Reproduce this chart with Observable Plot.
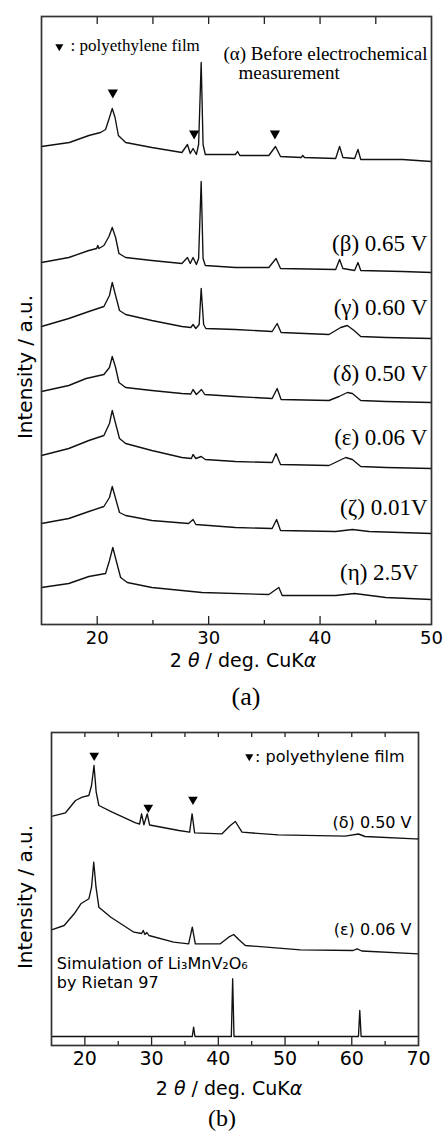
<!DOCTYPE html>
<html><head><meta charset="utf-8">
<script src="https://cdn.jsdelivr.net/npm/d3@7"></script>
<script src="https://cdn.jsdelivr.net/npm/@observablehq/plot@0.6"></script>
<style>
body{margin:0;background:#fff;}
#wrap{position:relative;width:444px;height:1134px;overflow:hidden;background:#fff;}
.t{position:absolute;white-space:nowrap;line-height:1;transform:translate(-50%,-50%);color:#000;}
.sans{font-family:"DejaVu Sans";}
.serif{font-family:"Liberation Serif";}
.rot{transform:translate(-50%,-50%) rotate(-90deg);}
</style></head><body><div id="wrap"></div>
<script>
// ---------- Panel (a): 2θ (deg) vs intensity (a.u., stacked) ----------
const alpha = [[15.0,478],[17.5,482],[19.25,489],[20.3,492],[20.75,495],[21.1,507],[21.35,516],[21.6,507],[21.9,489],[22.55,482],[24.9,477],[27.6,472],[28.1,480],[28.35,471],[28.6,476],[28.9,470],[29.1,480],[29.33,562],[29.5,480],[29.7,470],[32.4,470],[32.6,473],[32.8,469],[35.4,469],[36.0,478],[36.45,468],[38.3,467],[38.45,469],[38.6,467],[41.4,466],[41.75,478],[42.05,467],[43.1,466],[43.4,475],[43.65,465],[47.4,465],[50,463]];
const beta = [[15,362],[17.45,367],[19.25,374],[19.95,376],[20.05,379],[20.15,376],[20.6,379],[21.05,388],[21.35,397],[21.65,387],[21.95,371],[22.55,367],[24.9,364],[27.6,361],[28.1,367],[28.35,361],[28.6,367],[28.9,360],[29.1,366],[29.33,443],[29.5,366],[29.7,359],[32.4,357],[35.4,357],[36.05,366],[36.45,356],[41.4,355],[41.75,365],[42.05,356],[43.1,354],[43.4,362],[43.65,354],[47.4,353],[50,352]];
const gamma = [[15,298],[17.45,306],[19.25,313],[20.6,318],[21.1,329],[21.35,342],[21.65,329],[22.0,314],[22.55,310],[24.9,304],[27.6,298],[28.4,297],[28.6,300],[28.85,296],[29.15,300],[29.33,336],[29.55,300],[29.75,296],[32.4,295],[35.7,293],[36.15,301],[36.5,292],[40.8,290],[41.4,294],[41.85,297],[42.45,299],[43.05,294],[43.65,288],[45.9,287],[50,286]];
const delta = [[15,233],[17.45,239],[19.0,246],[20.6,250],[21.1,257],[21.35,268],[21.65,257],[21.95,242],[22.55,237],[24.9,234],[27.6,231],[28.4,230.5],[28.6,235],[28.9,230],[29.36,235],[29.65,230],[32.4,228],[35.7,226],[36.15,236],[36.5,225],[40.8,224],[41.7,228],[42.45,232],[42.9,231],[43.65,224],[45.9,223],[50,222]];
const epsilon = [[15,169],[17.45,176],[19.25,184],[20.6,189],[21.1,201],[21.35,214],[21.65,201],[22.0,186],[22.55,181],[24.9,174],[27.6,167],[28.45,166],[28.6,170],[28.85,166],[29.33,168],[29.7,165],[32.4,163],[35.7,162],[36.05,171],[36.45,160],[40.8,159],[41.55,163],[42.3,167],[42.9,165],[43.65,158],[45.9,157],[50,156]];
const zeta = [[15,101],[17.45,106],[19.25,113],[20.6,118],[21.1,127],[21.35,138],[21.65,126],[22.0,112],[22.55,109],[24.9,104],[28.2,101],[28.6,105],[28.85,100],[32.4,97],[35.7,96],[36.1,105],[36.45,94],[41.4,93],[42.9,95],[44.4,93],[50,91]];
const eta = [[15,37],[17.45,41],[19.25,48],[20.75,51],[21.1,64],[21.4,77],[21.7,64],[22.1,47],[22.7,42],[24.9,37],[29.4,32],[35.4,30],[36.3,37],[36.6,29],[41.4,29],[43.1,31],[45.9,27],[50,25]];
const namesA = ["α","β","γ","δ","ε","ζ","η"];
const tracesA = [alpha, beta, gamma, delta, epsilon, zeta, eta];
const labelsA = ["(β) 0.65 V","(γ) 0.60 V","(δ) 0.50 V","(ε) 0.06 V","(ζ) 0.01V","(η) 2.5V"];
const labelXA = [49.64,49.64,49.64,49.64,49.64,48.83];
const labelYA = [381,317,251,187,117,52];
const peMarksA = [[21.4,532],[28.7,491],[35.95,491]];
const tickLabelsA = [20,30,40,50];
const majorA = [20,30,40];
const minorA = [25,35,45];
const topA = [20,25,30,35,40,45];

// ---------- Panel (b) ----------
const deltaB = [[15.15,229.3],[17.1,232.7],[18.6,245],[19.6,248.3],[20.6,250],[21.0,260],[21.37,280],[21.7,253.3],[22.1,240],[24.1,233.3],[27.6,222.7],[28.2,221.5],[28.5,231.7],[28.85,220.7],[29.35,231.7],[29.7,220.5],[34.1,215],[35.7,213.3],[36.07,231.7],[36.45,212.7],[40.55,211.7],[41.8,220],[42.55,224],[43.55,213.3],[49.0,210.7],[59,209.3],[61.0,211.5],[62,209],[69.5,206.7],[70,206.5]];
const epsilonB = [[15,115.7],[16.9,120],[18.4,131.7],[19.4,141.7],[20.6,146.7],[21.0,158.3],[21.33,183.3],[21.67,158.3],[22.1,138.3],[23.9,128.3],[27.35,113.3],[28.5,112],[28.75,115],[29.0,111],[29.3,113],[29.6,110],[33.3,103.3],[35.55,101.7],[36.1,118.3],[36.55,101.7],[40.3,101.7],[41.55,108.3],[42.3,111],[43.05,106],[44.05,100],[52.3,95.7],[60.2,95],[60.8,96.7],[61.5,94.5],[70,91.7]];
const simB = [[15,9],[36.1,9],[36.3,18.3],[36.5,9],[41.95,9],[42.15,66.7],[42.35,9],[61.0,9],[61.2,35],[61.4,9],[70,9]];
const namesB = ["δ","ε","sim"];
const tracesB = [deltaB, epsilonB, simB];
const labelsB = ["(δ) 0.50 V","(ε) 0.06 V"];
const labelXB = [68.96,68.96];
const labelYB = [223,116];
const simText = ["Simulation of Li₃MnV₂O₆","by Rietan 97"];
const simTextY = [82,63];
const peMarksB = [[21.4,290],[29.5,238],[36.2,246]];
const tickLabelsB = [20,30,40,50,60,70];
const majorB = [20,30,40,50,60];
const minorB = [25,35,45,55,65];
const topB = [20,25,30,35,40,45,50,55,60,65];

const wrap = document.getElementById("wrap");
const ink = "#111";

const rowsA = tracesA.flatMap((t,i)=>t.map(([x,y])=>({s:namesA[i],x,y})));
const labA = labelsA.map((t,i)=>({t,x:labelXA[i],y:labelYA[i]}));
const plotA = Plot.plot({
  width:444, height:710, marginTop:16, marginBottom:86, marginLeft:41, marginRight:13,
  x:{domain:[15,50]}, y:{domain:[0,608], axis:null},
  style:{fontFamily:"DejaVu Sans", background:"white", color:"#000"},
  marks:[
    Plot.line(rowsA,{x:"x",y:"y",z:"s",stroke:ink,strokeWidth:1.35}),
    Plot.tickX(topA,{x:d=>d,insetBottom:600,stroke:"#222",strokeWidth:1.3}),
    Plot.tickX(majorA,{x:d=>d,insetTop:600,stroke:"#222",strokeWidth:1.3}),
    Plot.tickX(minorA,{x:d=>d,insetTop:604,stroke:"#222",strokeWidth:1.3}),
    Plot.frame({stroke:"#333",strokeWidth:1.7}),
    Plot.axisX(tickLabelsA,{tickSize:0,tickPadding:7,fontSize:18,label:null,tickFormat:d=>String(d),fill:"#000"}),
    Plot.dot(peMarksA,{x:d=>d[0],y:d=>d[1],symbol:"triangle",rotate:180,r:3.8,fill:"#000"}),
    Plot.dot([[16.6,578]],{x:d=>d[0],y:d=>d[1],symbol:"triangle",rotate:180,r:3,fill:"#000"}),
    Plot.text([[17.6,579]],{x:d=>d[0],y:d=>d[1],text:()=>": polyethylene film",textAnchor:"start",fontSize:17,fontFamily:"Liberation Serif",fill:"#000"}),
    Plot.text([[49.64,571]],{x:d=>d[0],y:d=>d[1],text:()=>"(α) Before electrochemical",textAnchor:"end",fontSize:19,fontFamily:"Liberation Serif",fill:"#000"}),
    Plot.text([[32.68,552]],{x:d=>d[0],y:d=>d[1],text:()=>"measurement",textAnchor:"start",fontSize:19,fontFamily:"Liberation Serif",fill:"#000"}),
    Plot.text(labA,{x:"x",y:"y",text:"t",textAnchor:"end",fontSize:23,fontFamily:"Liberation Serif",fill:"#000"})
  ]
});
plotA.style.position="absolute"; plotA.style.left="0px"; plotA.style.top="0px";
wrap.appendChild(plotA);

const rowsB = tracesB.flatMap((t,i)=>t.map(([x,y])=>({s:namesB[i],x,y})));
const labB = labelsB.map((t,i)=>({t,x:labelXB[i],y:labelYB[i]}));
const simLab = simText.map((t,i)=>({t,x:15.8,y:simTextY[i]}));
const plotB = Plot.plot({
  width:444, height:424, marginTop:22, marginBottom:89, marginLeft:51, marginRight:26,
  x:{domain:[15,70]}, y:{domain:[0,313], axis:null},
  style:{fontFamily:"DejaVu Sans", background:"white", color:"#000"},
  marks:[
    Plot.line(rowsB,{x:"x",y:"y",z:"s",stroke:ink,strokeWidth:1.35}),
    Plot.tickX(topB,{x:d=>d,insetBottom:308,stroke:"#222",strokeWidth:1.3}),
    Plot.tickX(majorB,{x:d=>d,insetTop:304,stroke:"#222",strokeWidth:1.3}),
    Plot.tickX(minorB,{x:d=>d,insetTop:309,stroke:"#222",strokeWidth:1.3}),
    Plot.frame({stroke:"#333",strokeWidth:1.7}),
    Plot.axisX(tickLabelsB,{tickSize:0,tickPadding:6,fontSize:19,label:null,tickFormat:d=>String(d),fill:"#000"}),
    Plot.dot(peMarksB,{x:d=>d[0],y:d=>d[1],symbol:"triangle",rotate:180,r:3.6,fill:"#000"}),
    Plot.dot([[44.64,289]],{x:d=>d[0],y:d=>d[1],symbol:"triangle",rotate:180,r:3,fill:"#000"}),
    Plot.text([[45.5,289]],{x:d=>d[0],y:d=>d[1],text:()=>": polyethylene film",textAnchor:"start",fontSize:16,fill:"#000"}),
    Plot.text(labB,{x:"x",y:"y",text:"t",textAnchor:"end",fontSize:16,fill:"#000"}),
    Plot.text(simLab,{x:"x",y:"y",text:"t",textAnchor:"start",fontSize:16,fill:"#000"})
  ]
});
plotB.style.position="absolute"; plotB.style.left="0px"; plotB.style.top="710px";
wrap.appendChild(plotB);

function addText(html, cx, cy, cls, size){
  const d=document.createElement("div");
  d.className="t "+cls; d.style.left=cx+"px"; d.style.top=cy+"px"; d.style.fontSize=size+"px";
  d.innerHTML=html; wrap.appendChild(d);
}
addText("Intensity / a.u.",25,367,"sans rot",20);
addText("2 <i>θ</i> / deg. CuK<i>α</i>",243,660,"sans",19);
addText("(a)",246,697,"serif",26);
addText("Intensity / a.u.",25,897,"sans rot",20);
addText("2 <i>θ</i> / deg. CuK<i>α</i>",229,1088,"sans",19);
addText("(b)",222,1118,"serif",24);
</script></body></html>
